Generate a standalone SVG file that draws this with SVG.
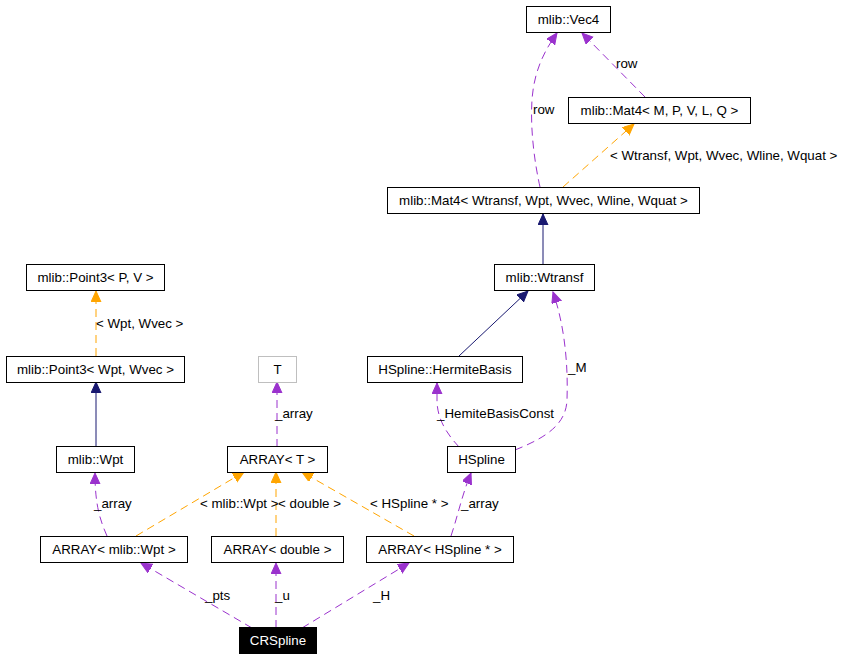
<svg xmlns="http://www.w3.org/2000/svg" width="847" height="659" viewBox="0 0 847 659">
<style>
text{font-family:"Liberation Sans",Arial,sans-serif;font-size:13.33px;fill:#000}
.n rect{fill:#fff;stroke:#000;stroke-width:1}
.n text{text-anchor:middle}
.e path{fill:none;stroke-width:1}
.p{stroke:#9a32cd;stroke-dasharray:8,5}
.o{stroke:#ffa500;stroke-dasharray:8,5}
.b{stroke:#191970}
</style>
<defs>
<marker id="ap" markerUnits="userSpaceOnUse" markerWidth="12" markerHeight="11" refX="11" refY="5" orient="auto" viewBox="0 0 12 11"><path d="M0,0 L11,5 L0,10 z" fill="#9a32cd" stroke="#9a32cd"/></marker>
<marker id="ao" markerUnits="userSpaceOnUse" markerWidth="12" markerHeight="11" refX="11" refY="5" orient="auto" viewBox="0 0 12 11"><path d="M0,0 L11,5 L0,10 z" fill="#ffa500" stroke="#ffa500"/></marker>
<marker id="ab" markerUnits="userSpaceOnUse" markerWidth="12" markerHeight="11" refX="11" refY="5" orient="auto" viewBox="0 0 12 11"><path d="M0,0 L11,5 L0,10 z" fill="#191970" stroke="#191970"/></marker>
</defs>
<rect width="847" height="659" fill="#fff"/>
<g id="connectors" class="e">
<path class="p" d="M645,97 L582,33" marker-end="url(#ap)"/>
<path class="p" d="M540,187 C535,165 530,130 532,100 C534,70 545,50 557,33" marker-end="url(#ap)"/>
<path class="o" d="M563,187 L634,124" marker-end="url(#ao)"/>
<path class="b" d="M543,264 L543,214" marker-end="url(#ab)"/>
<path class="b" d="M459,356 L528,291" marker-end="url(#ab)"/>
<path class="p" d="M515,450 C545,438 566,425 567,400 C568,370 566,330 553,292" marker-end="url(#ap)"/>
<path class="p" d="M459,447 C448,435 437,420 437,400 L437,383" marker-end="url(#ap)"/>
<path class="p" d="M277,447 L277,382" marker-end="url(#ap)"/>
<path class="o" d="M96,356 L96,291" marker-end="url(#ao)"/>
<path class="b" d="M96,447 L96,382" marker-end="url(#ab)"/>
<path class="p" d="M107,536 C100,520 95,505 95,473" marker-end="url(#ap)"/>
<path class="o" d="M136,536 L244,472" marker-end="url(#ao)"/>
<path class="o" d="M276,536 L276,472" marker-end="url(#ao)"/>
<path class="o" d="M414,536 L302,472" marker-end="url(#ao)"/>
<path class="p" d="M451,536 C458,515 462,495 471,473" marker-end="url(#ap)"/>
<path class="p" d="M252,628 L141,563" marker-end="url(#ap)"/>
<path class="p" d="M276,628 L276,563" marker-end="url(#ap)"/>
<path class="p" d="M302,628 L409,563" marker-end="url(#ap)"/>
<text x="616" y="68">row</text>
<text x="533" y="114">row</text>
<text x="610" y="160">&lt; Wtransf, Wpt, Wvec, Wline, Wquat &gt;</text>
<text x="96" y="328">&lt; Wpt, Wvec &gt;</text>
<text x="275" y="418">_array</text>
<text x="437" y="418">_HemiteBasisConst</text>
<text x="568" y="372">_M</text>
<text x="94" y="508">_array</text>
<text x="200" y="508">&lt; mlib::Wpt &gt;</text>
<text x="278" y="508">&lt; double &gt;</text>
<text x="370" y="508">&lt; HSpline * &gt;</text>
<text x="461" y="508">_array</text>
<text x="205" y="600">_pts</text>
<text x="275" y="600">_u</text>
<text x="373" y="600">_H</text>
</g>
<g id="vec4" class="n"><rect x="526.5" y="6.5" width="84" height="26"/><text x="568.5" y="24">mlib::Vec4</text></g>
<g id="mat4_mpvlq" class="n"><rect x="568.5" y="97.5" width="182" height="26"/><text x="659.5" y="115">mlib::Mat4&lt; M, P, V, L, Q &gt;</text></g>
<g id="mat4_wtransf" class="n"><rect x="387.5" y="187.5" width="312" height="26"/><text x="543.5" y="205">mlib::Mat4&lt; Wtransf, Wpt, Wvec, Wline, Wquat &gt;</text></g>
<g id="wtransf" class="n"><rect x="494.5" y="264.5" width="100" height="26"/><text x="544.5" y="282">mlib::Wtransf</text></g>
<g id="point3_pv" class="n"><rect x="26.5" y="264.5" width="138" height="26"/><text x="95.5" y="282">mlib::Point3&lt; P, V &gt;</text></g>
<g id="point3_wpt" class="n"><rect x="6.5" y="356.5" width="178" height="26"/><text x="95.5" y="374">mlib::Point3&lt; Wpt, Wvec &gt;</text></g>
<g id="t" class="n"><rect x="258.5" y="356.5" width="38" height="26" style="stroke:#bfbfbf"/><text x="277.5" y="374">T</text></g>
<g id="hermitebasis" class="n"><rect x="367.5" y="356.5" width="155" height="26"/><text x="445" y="374">HSpline::HermiteBasis</text></g>
<g id="wpt" class="n"><rect x="56.5" y="446.5" width="78" height="26"/><text x="95.5" y="464">mlib::Wpt</text></g>
<g id="array_t" class="n"><rect x="227.5" y="446.5" width="100" height="26"/><text x="277.5" y="464">ARRAY&lt; T &gt;</text></g>
<g id="hspline" class="n"><rect x="447.5" y="446.5" width="68" height="26"/><text x="481.5" y="464">HSpline</text></g>
<g id="array_wpt" class="n"><rect x="40.5" y="536.5" width="147" height="26"/><text x="114" y="554">ARRAY&lt; mlib::Wpt &gt;</text></g>
<g id="array_double" class="n"><rect x="211.5" y="536.5" width="132" height="26"/><text x="277.5" y="554">ARRAY&lt; double &gt;</text></g>
<g id="array_hspline" class="n"><rect x="366.5" y="536.5" width="147" height="26"/><text x="440" y="554">ARRAY&lt; HSpline * &gt;</text></g>
<g id="crspline" class="n"><rect x="239.5" y="627.5" width="77" height="26" style="fill:#000"/><text x="278" y="645" style="fill:#fff">CRSpline</text></g>
</svg>
